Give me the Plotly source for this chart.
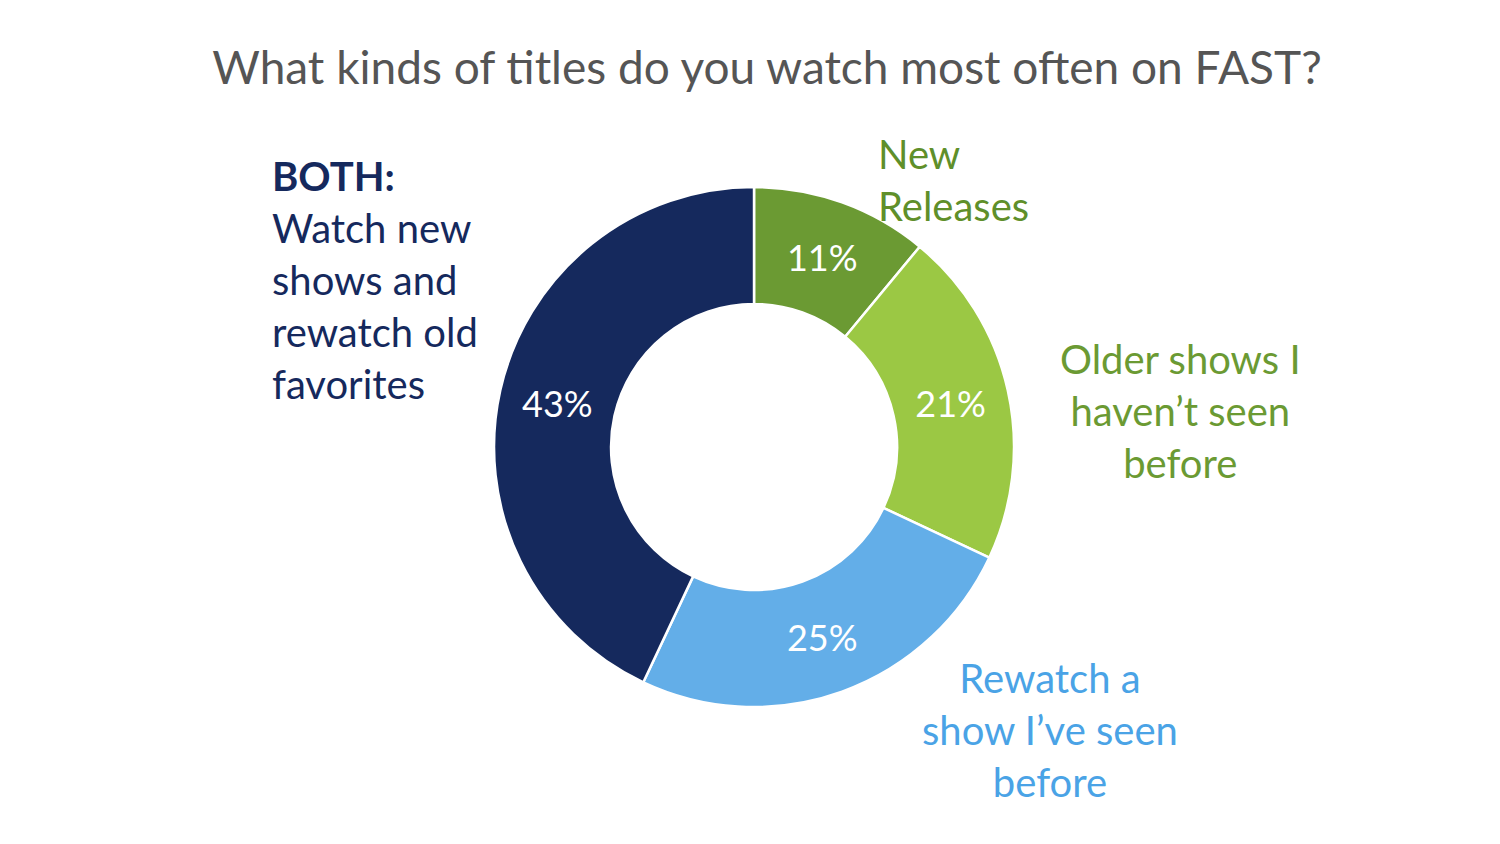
import plotly.graph_objects as go

categories = ["New Releases", "Older shows I haven't seen before", "Rewatch a show I've seen before", "BOTH"]
values = [11, 21, 25, 43]
colors = ["#6b9a33", "#9bc844", "#63aee8", "#15295d"]

fig = go.Figure(go.Pie(
    labels=categories, values=values, hole=0.55, sort=False, direction="clockwise",
    rotation=0, marker=dict(colors=colors, line=dict(color="white", width=2.5)),
    texttemplate="%{value}%", textposition="inside", insidetextorientation="horizontal",
    textfont=dict(color="white", size=36, family="Lato"), showlegend=False,
    domain=dict(x=[0.324, 0.6707], y=[0.1718, 0.7879]),
))

W, H = 1500, 844
def ann(x, y, text, color, align="center", xanchor="center", size=40):
    fig.add_annotation(x=x / W, y=1 - y / H, xref="paper", yref="paper", text=text,
                       showarrow=False, align=align, xanchor=xanchor, yanchor="middle",
                       font=dict(family="Lato", size=size, color=color))

ann(262, 272, "<b>BOTH:</b><br>Watch new<br>shows and<br>rewatch old<br>favorites", "#15295d", align="left", xanchor="left")
ann(868, 172, "New<br>Releases", "#5f8f2a", align="left", xanchor="left")
ann(1172, 403, "Older shows I<br>haven’t seen<br>before", "#6b9a33")
ann(1042, 722, "Rewatch a<br>show I’ve seen<br>before", "#4aa3e6")

fig.update_layout(
    width=W, height=H, margin=dict(l=0, r=0, t=0, b=0),
    paper_bgcolor="white", plot_bgcolor="white",
    title=dict(text="What kinds of titles do you watch most often on FAST?", x=0.506, xanchor="center",
               y=1 - 60 / H, yanchor="middle", font=dict(family="Lato", size=46, color="#555555")),
)
fig.write_html("out.html")
